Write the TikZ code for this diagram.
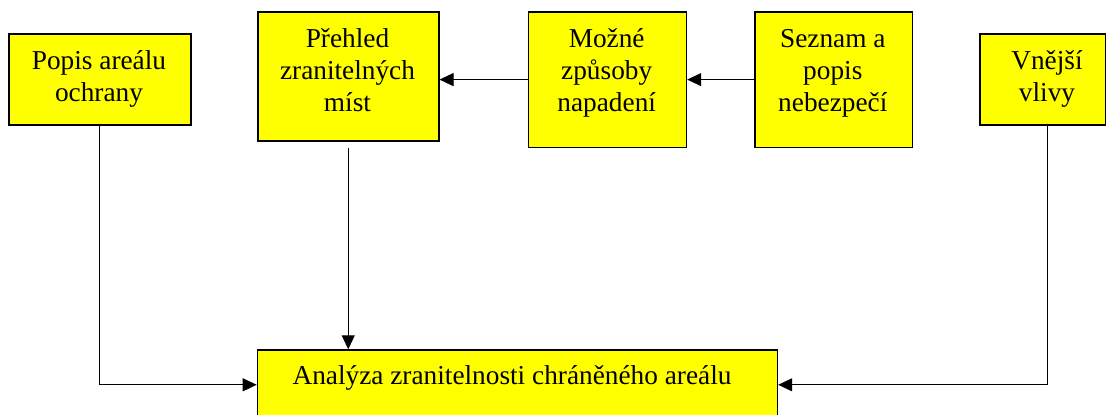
\documentclass[tikz,border=0pt]{standalone}
\usepackage{fontspec}
\setmainfont{Liberation Serif}
\newfontfamily\tnr{Liberation Serif}
\usetikzlibrary{arrows.meta,calc}
\definecolor{boxyellow}{RGB}{255,255,0}
\begin{document}
\begin{tikzpicture}[x=1pt,y=-1pt,
  box/.style={draw=black, line width=1.5pt, fill=boxyellow, inner sep=0pt, anchor=north west},
  lbl/.style={anchor=base, inner sep=0pt, font=\tnr\fontsize{27.3}{32.2}\selectfont},
  conn/.style={line width=1pt, draw=black},
  arr/.style={conn, -{Triangle[length=14pt,width=13pt]}}]
\clip (0,0) rectangle (1106,415);
\fill[white] (0,0) rectangle (1106,415);
% boxes
\node[box, minimum width=182pt, minimum height=91pt] (b1) at (8,33) {};
\node[box, minimum width=181pt, minimum height=129pt] (b2) at (257,11) {};
\node[box, minimum width=158pt, minimum height=135.7pt] (b3) at (527.7,11) {};
\node[box, minimum width=157.7pt, minimum height=135.7pt] (b4) at (754,11) {};
\node[box, minimum width=125.5pt, minimum height=91pt] (b5) at (979,33) {};
\node[box, minimum width=520pt, minimum height=80pt] (an) at (256.7,349.3) {};
% labels
\node[lbl] (t1) at (99,69.3) {\begin{tabular}[t]{@{}c@{}}Popis areálu\\ochrany\end{tabular}};
\node[lbl] (t2) at (347.5,47.5) {\begin{tabular}[t]{@{}c@{}}Přehled\\zranitelných\\míst\end{tabular}};
\node[lbl] (t3) at (606.7,47.5) {\begin{tabular}[t]{@{}c@{}}Možné\\způsoby\\napadení\end{tabular}};
\node[lbl] (t4) at (832.8,47.5) {\begin{tabular}[t]{@{}c@{}}Seznam a\\popis\\nebezpečí\end{tabular}};
\node[lbl] (t5) at (1047,69.3) {\begin{tabular}[t]{@{}c@{}}Vnější\\vlivy\end{tabular}};
\node[lbl] (ta) at (512,384) {Analýza zranitelnosti chráněného areálu};
% connectors
\draw[arr] (b4.west) -- (b3.east);
\draw[arr] (b3.west) -- (b3.west -| b2.east);
\coordinate (c2) at ($(b2.south)+(0,6)$);
\draw[arr] (c2) -- (c2 |- an.north);
\coordinate (k1) at ($(b1.south)+(0,259.3)$);
\draw[arr] (b1.south) -- (k1) -- (k1 -| an.west);
\coordinate (s5) at ($(b5.south)+(5,0)$);
\coordinate (k5) at ($(s5)+(0,259.3)$);
\draw[arr] (s5) -- (k5) -- (k5 -| an.east);
\end{tikzpicture}
\end{document}
